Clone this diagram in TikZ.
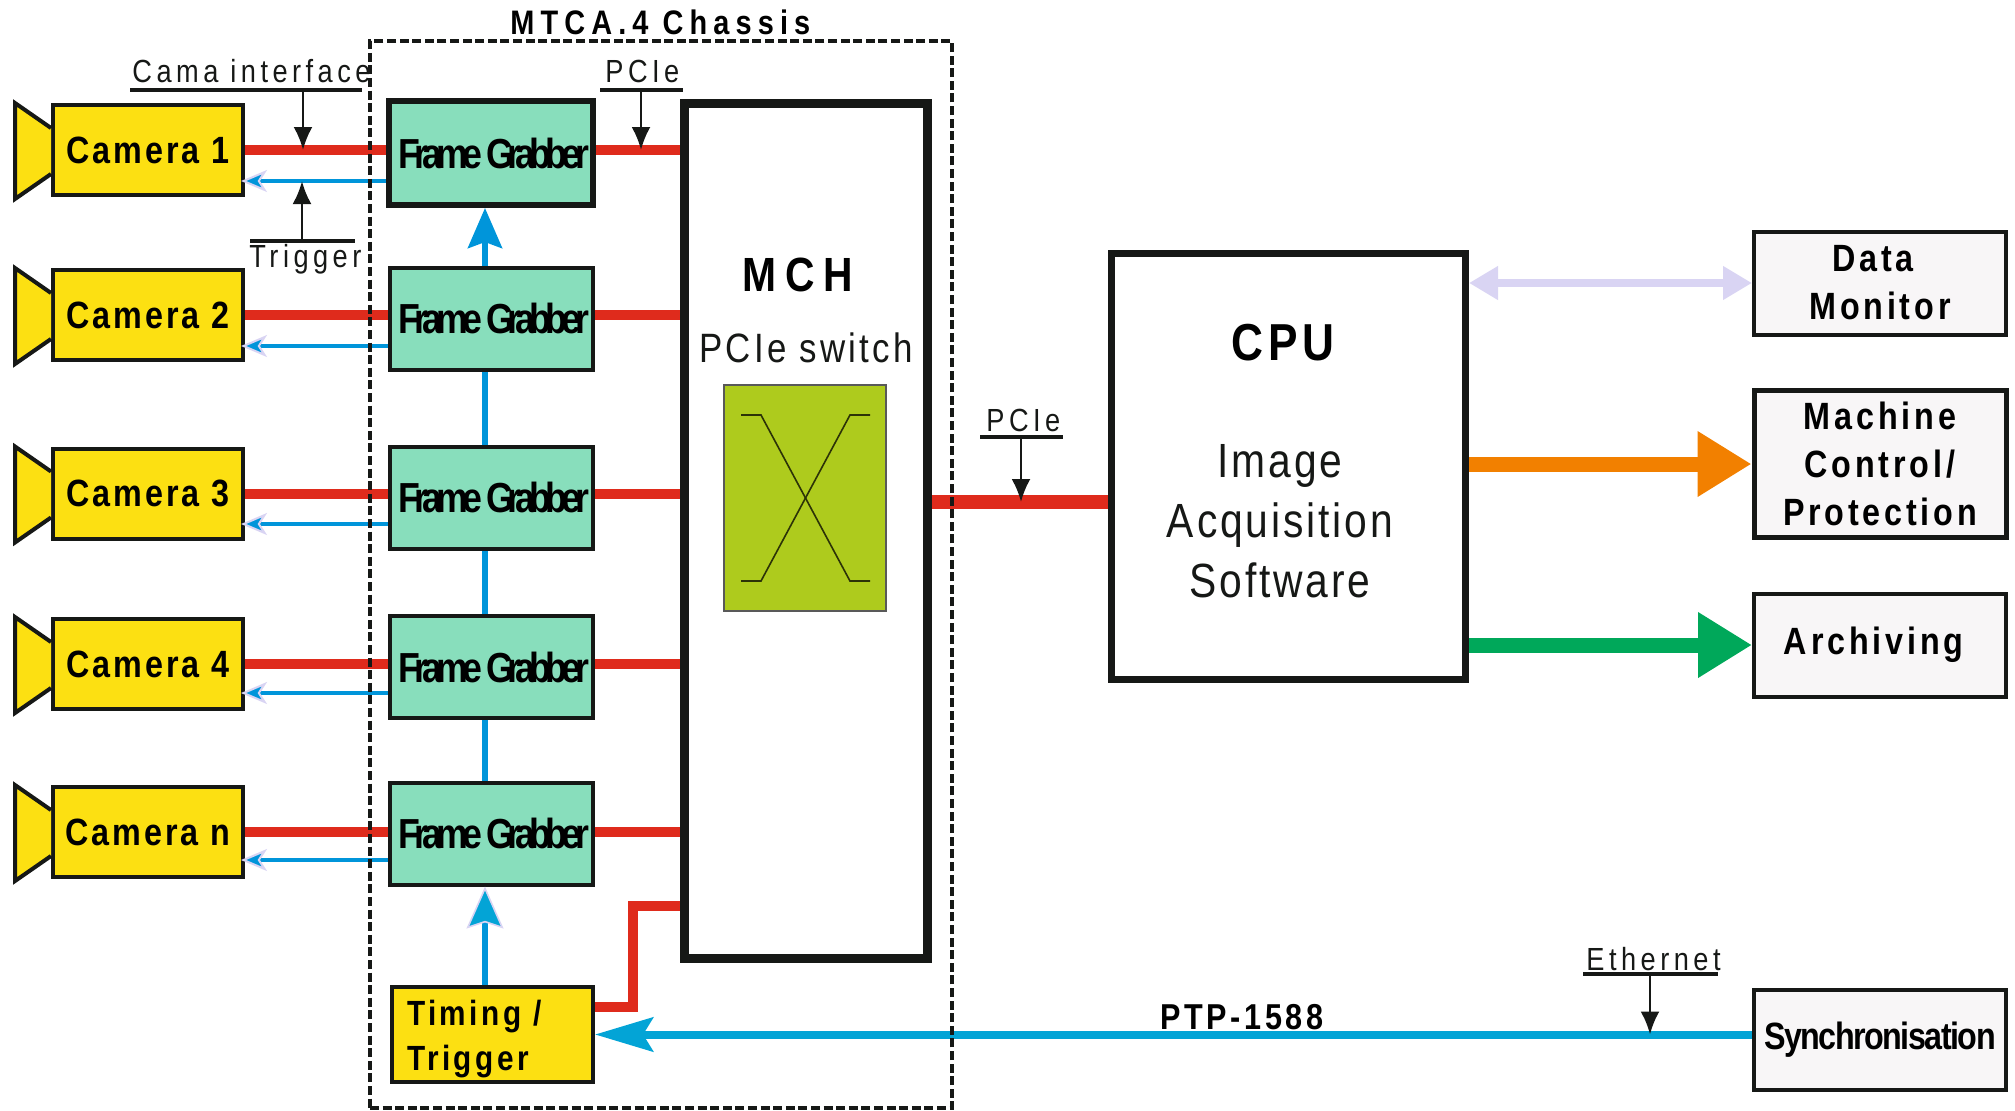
\documentclass[tikz,border=0pt]{standalone}
\usepackage{fontspec}
\usepackage{tikz}
\usetikzlibrary{arrows.meta,calc}
\setmainfont{Liberation Sans}
\newfontfamily\thinfont[FakeStretch=0.85,LetterSpace=14]{Liberation Sans}
\newfontfamily\softfont[FakeStretch=0.85,LetterSpace=6]{Liberation Sans}
\newfontfamily\boldfont[FakeStretch=0.85,LetterSpace=10]{Liberation Sans}
\newfontfamily\camfont[FakeStretch=0.85,LetterSpace=8]{Liberation Sans}
\newfontfamily\widefont[FakeStretch=0.85,LetterSpace=18]{Liberation Sans}
\newfontfamily\tightfont[FakeStretch=0.85,LetterSpace=-14]{Liberation Sans}
\newfontfamily\syncfont[FakeStretch=0.85,LetterSpace=-4]{Liberation Sans}
\definecolor{inkblack}{HTML}{161816}
\definecolor{camyellow}{HTML}{FCE012}
\definecolor{grabgreen}{HTML}{88DEBC}
\definecolor{linkred}{HTML}{DF2B1C}
\definecolor{linkblue}{HTML}{0095DA}
\definecolor{ptpblue}{HTML}{03A4D6}
\definecolor{lavender}{HTML}{D9D4F3}
\definecolor{switchgreen}{HTML}{AECB1D}
\definecolor{sinkgrey}{HTML}{F8F6F7}
\definecolor{ctrlorange}{HTML}{F28000}
\definecolor{archgreen}{HTML}{00A85A}
\tikzset{
  camera/.style = {draw=inkblack, fill=camyellow, line width=2pt, inner sep=0pt, minimum width=95pt, minimum height=45pt,
    font=\camfont\bfseries\fontsize{19}{24}\selectfont},
  horn/.style = {draw=inkblack, fill=camyellow, line width=2pt},
  grabber/.style = {draw=inkblack, fill=grabgreen, line width=2pt, inner sep=0pt, minimum width=101.5pt, minimum height=51pt,
    font=\tightfont\bfseries\fontsize{21}{24}\selectfont, execute at begin node=\hspace*{3pt}},
  sink/.style = {draw=inkblack, fill=sinkgrey, line width=2pt, inner sep=0pt, minimum width=126pt, minimum height=51.5pt, align=center,
    font=\boldfont\bfseries\fontsize{19}{24}\selectfont},
  bigbox/.style = {draw=inkblack, fill=white, inner sep=0pt},
  chassis/.style = {draw=inkblack, line width=2pt, dash pattern=on 4.5pt off 1.8pt, inner sep=0pt, minimum width=291pt, minimum height=533.5pt},
  thinlabel/.style = {inner sep=0pt, text=inkblack, font=\thinfont\fontsize{16}{20}\selectfont},
  softlabel/.style = {inner sep=0pt, text=inkblack, font=\softfont\fontsize{24}{30}\selectfont},
  boldlabel/.style = {inner sep=0pt, text=black, font=\boldfont\bfseries\fontsize{18}{24}\selectfont},
  widelabel/.style = {inner sep=0pt, text=black, font=\widefont\bfseries\fontsize{17}{24}\selectfont},
  redlink/.style = {draw=linkred, line width=5pt},
  triglink/.style = {draw=linkblue, line width=2pt, shorten >=-2pt, -{Stealth[length=13pt,width=11pt,inset=3.5pt,color=lavender,fill=linkblue,line width=1pt]}},
  busline/.style = {draw=linkblue, line width=3pt},
  busarrow/.style = {busline, -{Stealth[length=20pt,width=17pt,inset=3pt,color=linkblue,fill=linkblue]}},
  pointer/.style = {draw=inkblack, line width=1.4pt, -{Latex[length=11.5pt,width=9.5pt]}},
  tick/.style = {draw=inkblack, line width=2pt},
  xline/.style = {draw=black!75!switchgreen, line width=0.8pt},
}
\begin{document}
\begin{tikzpicture}[x=0.5pt,y=-0.5pt]
  \useasboundingbox (0,0) rectangle (2015,1110);

  % Cameras
  \node[camera] (cam1) at (148,150) {Camera 1};
  \node[camera] (cam2) at (148,315) {Camera 2};
  \node[camera] (cam3) at (148,493.5) {Camera 3};
  \node[camera] (cam4) at (148,664) {Camera 4};
  \node[camera] (camn) at (148,832) {Camera n};
  \draw[horn] ($(cam1.west)+(0,-22)$) -- ++(-36,-25) -- ++(0,96) -- ++(36,-25);
  \draw[horn] ($(cam2.west)+(0,-22)$) -- ++(-36,-25) -- ++(0,96) -- ++(36,-25);
  \draw[horn] ($(cam3.west)+(0,-22)$) -- ++(-36,-25) -- ++(0,96) -- ++(36,-25);
  \draw[horn] ($(cam4.west)+(0,-22)$) -- ++(-36,-25) -- ++(0,96) -- ++(36,-25);
  \draw[horn] ($(camn.west)+(0,-22)$) -- ++(-36,-25) -- ++(0,96) -- ++(36,-25);

  % Frame grabbers and the crate blocks
  \node[grabber, line width=3pt, minimum width=102pt, minimum height=52pt] (fg1) at (491,153) {Frame Grabber};
  \node[grabber] (fg2) at (491,318.5) {Frame Grabber};
  \node[grabber] (fg3) at (491,497.5) {Frame Grabber};
  \node[grabber] (fg4) at (491,667) {Frame Grabber};
  \node[grabber] (fgn) at (491,833.5) {Frame Grabber};
  \node[draw=inkblack, fill=camyellow, line width=2pt, inner ysep=0pt, inner xsep=7.5pt, text width=85.5pt, minimum height=47.5pt, align=left,
    font=\boldfont\bfseries\fontsize{17.5}{22.5}\selectfont] (timing) at (492.5,1034.5) {\rule{0pt}{17pt}Timing /\\Trigger};
  \node[bigbox, line width=4.5pt, minimum width=121.5pt, minimum height=427.5pt] (mch) at (806,531) {};
  \node[draw=black!65, fill=switchgreen, line width=0.8pt, minimum width=81pt, minimum height=113pt, inner sep=0pt] (xswitch) at (805,498) {};
  \node[bigbox, line width=3.5pt, minimum width=177pt, minimum height=213pt] (cpu) at (1288.5,466.5) {};

  % Sinks on the right
  \node[sink] (monitor) at (1880,283) {Data\hspace*{7pt}\\Monitor};
  \node[sink, line width=2.5pt, minimum height=73.5pt] (machine) at (1880,464) {Machine\\Control/\\Protection};
  \node[sink] (archive) at (1880,645) {Archiving\hspace*{6.4pt}};
  \node[sink, minimum height=50pt, font=\syncfont\bfseries\fontsize{19}{24}\selectfont] (sync) at (1880,1039.5) {Synchronisation};

  % Texts inside the blocks
  \node[widelabel, anchor=base, font=\widefont\bfseries\fontsize{24}{30}\selectfont] (mchtitle) at (798,291) {MCH};
  \node[softlabel, anchor=base, font=\softfont\fontsize{20.5}{24}\selectfont\addfontfeature{LetterSpace=8}] (switchtitle) at (806,362) {PCIe switch};
  \node[boldlabel, anchor=base, font=\boldfont\bfseries\fontsize{26}{30}\selectfont] (cputitle) at (1283,360) {CPU};
  \node[softlabel, anchor=base, align=center] (cpusoft) at (1280,597) {Image\\Acquisition\\Software};

  % Chassis title
  \node[widelabel, anchor=base west] (chassistitle) at (510,34) {MTCA.4 Chassis};

  % Red PCIe and camera links
  \draw[redlink] (cam1.east) -- (cam1.east -| fg1.west);
  \draw[redlink] (cam2.east) -- (cam2.east -| fg2.west);
  \draw[redlink] (cam3.east) -- (cam3.east -| fg3.west);
  \draw[redlink] (cam4.east) -- (cam4.east -| fg4.west);
  \draw[redlink] (camn.east) -- (camn.east -| fgn.west);
  \draw[redlink] (cam1.east -| fg1.east) -- (cam1.east -| mch.west);
  \draw[redlink] (cam2.east -| fg2.east) -- (cam2.east -| mch.west);
  \draw[redlink] (cam3.east -| fg3.east) -- (cam3.east -| mch.west);
  \draw[redlink] (cam4.east -| fg4.east) -- (cam4.east -| mch.west);
  \draw[redlink] (camn.east -| fgn.east) -- (camn.east -| mch.west);
  \coordinate (timingout) at ($(timing.east)+(0,-27.5)$);
  \coordinate (mchin) at (mch.west |- 0,906);
  \draw[redlink, line join=miter] (timingout) -- ++(38,0) |- (mchin);
  \draw[redlink, line width=7pt] (mch.east |- 0,502) coordinate (mchout) -- (mchout -| cpu.west);

  % Trigger lines back to the cameras
  \coordinate (cam1trig) at ($(cam1.east)+(0,31)$);
  \draw[triglink] (cam1trig -| fg1.west) -- (cam1trig);
  \coordinate (cam2trig) at ($(cam2.east)+(0,31)$);
  \draw[triglink] (cam2trig -| fg2.west) -- (cam2trig);
  \coordinate (cam3trig) at ($(cam3.east)+(0,30.5)$);
  \draw[triglink] (cam3trig -| fg3.west) -- (cam3trig);
  \coordinate (cam4trig) at ($(cam4.east)+(0,29)$);
  \draw[triglink] (cam4trig -| fg4.west) -- (cam4trig);
  \coordinate (camntrig) at ($(camn.east)+(0,28)$);
  \draw[triglink] (camntrig -| fgn.west) -- (camntrig);

  % Trigger bus up the grabbers
  \coordinate (bus) at (485,0);
  \draw[busarrow] (bus |- fg2.north) -- (bus |- fg1.south);
  \draw[busline] (bus |- fg3.north) -- (bus |- fg2.south);
  \draw[busline] (bus |- fg4.north) -- (bus |- fg3.south);
  \draw[busline] (bus |- fgn.north) -- (bus |- fg4.south);
  \draw[busline, -{Stealth[length=21pt,width=18.5pt,inset=3pt,color=lavender,fill=ptpblue,line width=0.8pt]}] (bus |- timing.north) -- (bus |- fgn.south);

  % Outgoing arrows from the CPU
  \draw[draw=lavender, line width=4pt, {Triangle[length=14.5pt,width=16pt,color=lavender]}-{Triangle[length=14.5pt,width=16pt,color=lavender]}]
    (cpu.east |- monitor.west) -- (monitor.west);
  \draw[draw=ctrlorange, line width=7.5pt, -{Triangle[length=27pt,width=31pt,color=ctrlorange]}] (cpu.east |- machine.west) -- (machine.west);
  \draw[draw=archgreen, line width=7.5pt, -{Triangle[length=27pt,width=31pt,color=archgreen]}] (cpu.east |- archive.west) -- (archive.west);

  % PTP line
  \draw[draw=ptpblue, line width=4pt, -{Stealth[length=29pt,width=17pt,inset=5pt,color=ptpblue]}] (sync.west |- timing.east) -- (timing.east);
  \node[boldlabel, anchor=base west] (ptplabel) at (1160,1029) {PTP-1588};

  \node[chassis] (crate) at (661,574.5) {};

  % Switch symbol
  \draw[xline] ($(xswitch.center)+(-64,-83)$) -- ++(20,0) -- ($(xswitch.center)+(45,83)$) -- ++(20,0);
  \draw[xline] ($(xswitch.center)+(-64,83)$) -- ++(20,0) -- ($(xswitch.center)+(45,-83)$) -- ++(20,0);

  % Small labels with rule and pointer
  \node[thinlabel, anchor=base west] (camalabel) at (132,82) {Cama interface};
  \coordinate (camatap) at (303,90);
  \draw[tick] ($(camatap)+(-173,0)$) -- ($(camatap)+(59,0)$);
  \draw[pointer] (camatap) -- (camatap |- cam1.east);

  \node[thinlabel, anchor=base west] (pcielabela) at (605,82) {PCIe};
  \coordinate (pcietapa) at (641,90);
  \draw[tick] ($(pcietapa)+(-41,0)$) -- ($(pcietapa)+(42,0)$);
  \draw[pointer] (pcietapa) -- (pcietapa |- cam1.east);

  \node[thinlabel, anchor=base west] (triglabel) at (249,267) {Trigger};
  \coordinate (trigtap) at (302,241);
  \draw[tick] ($(trigtap)+(-52,0)$) -- ($(trigtap)+(53,0)$);
  \draw[pointer] (trigtap) -- (trigtap |- cam1trig);

  \node[thinlabel, anchor=base west] (pcielabelb) at (986,431) {PCIe};
  \coordinate (pcietapb) at (1021,437);
  \draw[tick] ($(pcietapb)+(-41,0)$) -- ($(pcietapb)+(42,0)$);
  \draw[pointer] (pcietapb) -- (pcietapb |- mchout);

  \node[thinlabel, anchor=base west] (ethlabel) at (1586,970) {Ethernet};
  \coordinate (ethtap) at (1650,974);
  \draw[tick] ($(ethtap)+(-67,0)$) -- ($(ethtap)+(68,0)$);
  \draw[pointer] (ethtap) -- (ethtap |- timing.east);
\end{tikzpicture}
\end{document}
